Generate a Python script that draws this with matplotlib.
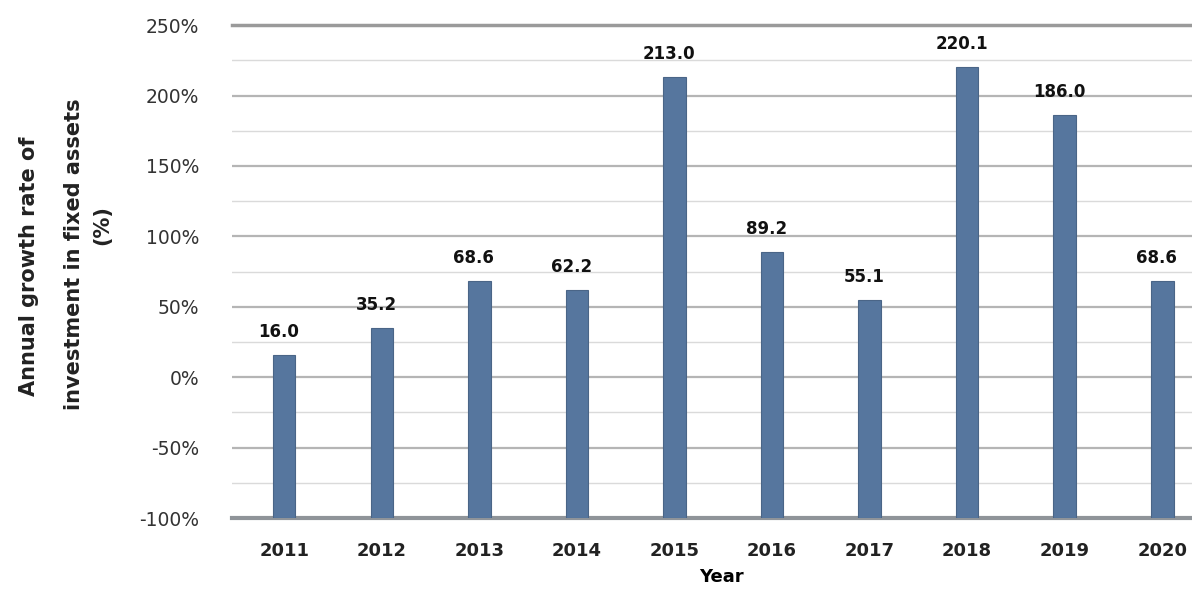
import matplotlib
matplotlib.use("Agg")
import matplotlib.pyplot as plt
from matplotlib.ticker import MultipleLocator, FuncFormatter

# Data
years = ["2011", "2012", "2013", "2014", "2015", "2016", "2017", "2018", "2019", "2020"]
growth = [16.0, 35.2, 68.6, 62.2, 213.0, 89.2, 55.1, 220.1, 186.0, 68.6]

plt.rcParams["font.family"] = ["DejaVu Sans"]

fig = plt.figure(figsize=(11.92, 5.91), dpi=100)
ax = fig.add_axes([0.195, 0.1235, 0.821, 0.834])

ymin, ymax = -100, 250
x = range(len(years))
ax.bar(x, [v - ymin for v in growth], bottom=ymin, width=0.23,
       color="#56769e", edgecolor="#4a6587", linewidth=0.8, zorder=3)

ax.set_xlim(-0.53, len(years) - 0.5)
ax.set_ylim(ymin, ymax)
ax.yaxis.set_major_locator(MultipleLocator(50))
ax.yaxis.set_minor_locator(MultipleLocator(25))
ax.yaxis.set_major_formatter(FuncFormatter(lambda v, p: f"{v:.0f}%"))

ax.grid(axis="y", which="major", color="#b5b5b5", linewidth=1.6, zorder=0)
ax.grid(axis="y", which="minor", color="#dadada", linewidth=1.0, zorder=0)

for s in ["left", "right"]:
    ax.spines[s].set_visible(False)
ax.spines["top"].set_color("#9a9a9a")
ax.spines["top"].set_linewidth(2.5)
ax.spines["bottom"].set_color("#8f9499")
ax.spines["bottom"].set_linewidth(3)

ax.tick_params(axis="y", which="both", length=0, labelsize=13.5, pad=24, colors="#333333")
ax.tick_params(axis="x", length=0, labelsize=13, pad=17, colors="#222222")
ax.set_xticks(list(x))
ax.set_xticklabels(years, fontweight="bold")

for xi, v in zip(x, growth):
    ax.annotate(f"{v:.1f}", (xi, v), xytext=(-4, 10), textcoords="offset points",
                ha="center", va="bottom", fontsize=12, fontweight="bold",
                color="#111111", zorder=4)

ax.set_xlabel("Year", fontsize=13, fontweight="bold", labelpad=6)

# Three-line rotated y-axis title
fig.text(0.024, 0.55, "Annual growth rate of", rotation=90, ha="center", va="center",
         fontsize=15, fontweight="bold", color="#222222")
fig.text(0.062, 0.57, "investment in fixed assets", rotation=90, ha="center", va="center",
         fontsize=15, fontweight="bold", color="#222222")
fig.text(0.086, 0.62, "(%)", rotation=90, ha="center", va="center",
         fontsize=15, fontweight="bold", color="#222222")

fig.savefig("out.png", dpi=100)
